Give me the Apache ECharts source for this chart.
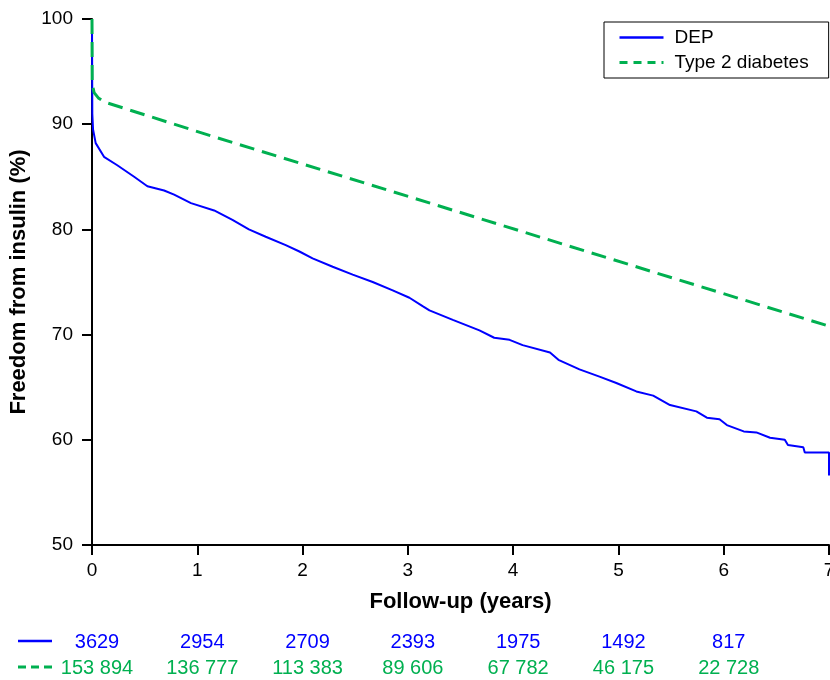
<!DOCTYPE html>
<html>
<head>
<meta charset="utf-8">
<title>Freedom from insulin</title>
<script src="https://cdn.jsdelivr.net/npm/echarts@6/dist/echarts.min.js"></script>
<style>
  html, body { margin: 0; padding: 0; background: #fff; }
  #chart { width: 830px; height: 680px; }
</style>
</head>
<body>
<div id="chart"></div>
<script>
// 曲线数据
const depYears = [0, 0.003, 0.01, 0.035, 0.114, 0.24, 0.40, 0.526, 0.685, 0.78, 0.94, 1.16, 1.334, 1.49, 1.65, 1.84, 1.97, 2.095, 2.286, 2.476, 2.666, 2.856, 3.015, 3.14, 3.205, 3.427, 3.68, 3.82, 3.966, 4.09, 4.35, 4.43, 4.63, 4.82, 4.98, 5.17, 5.33, 5.49, 5.74, 5.84, 5.96, 6.03, 6.19, 6.31, 6.44, 6.58, 6.61, 6.756, 6.77, 7.0, 7.0]
const depFree = [100, 91.0, 89.5, 88.2, 86.9, 86.1, 85.0, 84.1, 83.7, 83.3, 82.5, 81.8, 80.9, 80.0, 79.3, 78.5, 77.9, 77.25, 76.45, 75.7, 75.0, 74.2, 73.5, 72.7, 72.3, 71.4, 70.4, 69.7, 69.5, 69.0, 68.3, 67.6, 66.7, 66.0, 65.4, 64.6, 64.2, 63.3, 62.7, 62.1, 61.95, 61.4, 60.8, 60.7, 60.2, 60.0, 59.5, 59.3, 58.8, 58.8, 56.6]

const t2dYears = [0, 0.002, 0.02, 0.06, 0.12, 1.16, 3.015, 7]
const t2dFree = [100, 93.8, 93.0, 92.5, 92.1, 88.8, 83.1, 70.8]

// 风险人数
const riskYears = [0, 1, 2, 3, 4, 5, 6]
const riskDEP = [3629, 2954, 2709, 2393, 1975, 1492, 817]
const riskT2D = [153894, 136777, 113383, 89606, 67782, 46175, 22728]

const xTicks = [0, 1, 2, 3, 4, 5, 6, 7]
const yTicks = [50, 60, 70, 80, 90, 100]

const BLUE = '#0000ff'
const GREEN = '#00b050'
const FONT = "'Liberation Sans', Arial, sans-serif"

const zip = (xs, ys) => xs.map((x, i) => [x, ys[i]])
const fmtCount = (n) => n >= 10000 ? String(n).replace(/\B(?=(\d{3})+(?!\d))/g, ' ') : String(n)

const chart = echarts.init(document.getElementById('chart'))

// 风险人数标签
const riskLabel = (color) => ({
  show: true,
  position: 'inside',
  offset: [5, 1],
  fontSize: 20,
  color: color,
  opacity: 1,
  textBorderWidth: 0,
  fontFamily: FONT,
  formatter: (p) => fmtCount(p.value[2])
})

const option = {
  animation: false,
  textStyle: { fontFamily: FONT },
  grid: [
    { left: 92, right: 1, top: 19, bottom: 135, containLabel: false, outerBoundsMode: 'none' },
    { left: 92, right: 1, top: 628, height: 52, containLabel: false, outerBoundsMode: 'none' }
  ],
  legend: {
    left: 604,
    top: 22,
    orient: 'vertical',
    itemWidth: 44,
    itemHeight: 14,
    itemGap: 6,
    padding: [6, 20, 6, 14],
    borderColor: '#000',
    borderWidth: 1,
    itemStyle: { opacity: 0 },
    textStyle: { fontSize: 19, color: '#000', fontFamily: FONT, padding: [0, 0, 0, 6] },
    data: [
      { name: 'DEP', lineStyle: { width: 2.5 } },
      { name: 'Type 2 diabetes', lineStyle: { type: [8, 6], width: 3 } }
    ]
  },
  xAxis: [
    {
      gridIndex: 0,
      type: 'value',
      min: xTicks[0],
      max: xTicks[xTicks.length - 1],
      interval: 1,
      name: 'Follow-up (years)',
      nameLocation: 'middle',
      nameGap: 46,
      nameTextStyle: { fontSize: 22, fontWeight: 'bold', color: '#000', fontFamily: FONT },
      axisLine: { lineStyle: { color: '#000', width: 2 } },
      axisTick: { length: 10, lineStyle: { color: '#000', width: 2 } },
      axisLabel: { fontSize: 19, color: '#000', margin: 16, fontFamily: FONT },
      splitLine: { show: false }
    },
    { gridIndex: 1, type: 'value', min: 0, max: 7, show: false }
  ],
  yAxis: [
    {
      gridIndex: 0,
      type: 'value',
      min: yTicks[0],
      max: yTicks[yTicks.length - 1],
      interval: 10,
      name: 'Freedom from insulin (%)',
      nameLocation: 'middle',
      nameGap: 58,
      nameTextStyle: { fontSize: 22, fontWeight: 'bold', color: '#000', fontFamily: FONT },
      axisLine: { show: true, lineStyle: { color: '#000', width: 2 } },
      axisTick: { show: true, length: 10, lineStyle: { color: '#000', width: 2 } },
      axisLabel: { fontSize: 19, color: '#000', margin: 19, fontFamily: FONT },
      splitLine: { show: false }
    },
    { gridIndex: 1, type: 'category', inverse: true, data: ['DEP', 'Type 2 diabetes'], show: false }
  ],
  graphic: [
    { type: 'line', shape: { x1: 18, y1: 641, x2: 52, y2: 641 }, style: { stroke: BLUE, lineWidth: 2.5 } },
    { type: 'line', shape: { x1: 18, y1: 667, x2: 55, y2: 667 }, style: { stroke: GREEN, lineWidth: 3, lineDash: [8, 5] } }
  ],
  series: [
    {
      name: 'DEP',
      type: 'line',
      xAxisIndex: 0,
      yAxisIndex: 0,
      symbol: 'none',
      color: BLUE,
      lineStyle: { color: BLUE, width: 2 },
      data: zip(depYears, depFree)
    },
    {
      name: 'Type 2 diabetes',
      type: 'line',
      xAxisIndex: 0,
      yAxisIndex: 0,
      symbol: 'none',
      color: GREEN,
      lineStyle: { color: GREEN, width: 3, type: [15, 8] },
      data: zip(t2dYears, t2dFree)
    },
    {
      name: 'riskDEP',
      type: 'scatter',
      xAxisIndex: 1,
      yAxisIndex: 1,
      symbolSize: 1,
      itemStyle: { color: 'rgba(0,0,0,0)' },
      label: riskLabel(BLUE),
      data: riskYears.map((x, i) => [x, 'DEP', riskDEP[i]])
    },
    {
      name: 'riskT2D',
      type: 'scatter',
      xAxisIndex: 1,
      yAxisIndex: 1,
      symbolSize: 1,
      itemStyle: { color: 'rgba(0,0,0,0)' },
      label: riskLabel(GREEN),
      data: riskYears.map((x, i) => [x, 'Type 2 diabetes', riskT2D[i]])
    }
  ]
}

chart.setOption(option)
</script>
</body>
</html>
